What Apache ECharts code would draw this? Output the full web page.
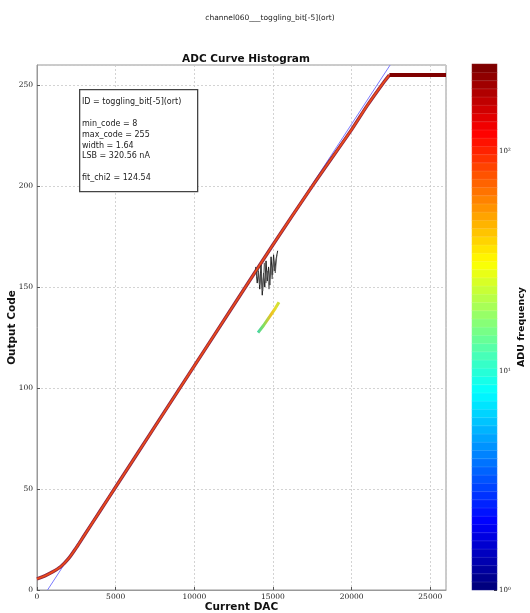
<!DOCTYPE html>
<html>
<head>
<meta charset="utf-8">
<script src="https://cdn.jsdelivr.net/npm/echarts@6/dist/echarts.min.js"></script>
<style>html,body{margin:0;padding:0;background:#fff;}#c{width:530px;height:613px;}</style>
</head>
<body>
<div id="c"></div>
<script>
// ---- data ----
const curveDac  = [0, 500, 1000, 1500, 2000, 2500, 3000, 4000, 5000, 7500, 10000, 12500, 15000, 17500, 20000, 21000, 22000, 22400];
const curveCode = [5.5, 7, 9, 11.5, 15.5, 21, 27, 39, 51, 81, 111, 141, 171, 200, 228, 240, 251, 255];
const flatDac   = [22400, 26000];
const flatCode  = [255, 255];
const fitDac    = [670, 22450];
const fitCode   = [0, 260];
const noiseDac  = [13900, 14000, 14080, 14160, 14240, 14320, 14400, 14480, 14560, 14640, 14720, 14800, 14880, 14960, 15040, 15120, 15200, 15300];
const noiseCode = [160, 152, 158, 149, 161, 146, 157, 150, 163, 153, 160, 151, 165, 156, 166, 158, 164, 168];
const noise2Dac  = [13950, 14050, 14150, 14250, 14350, 14450, 14550, 14650, 14750, 14850, 14950, 15050, 15150, 15250];
const noise2Code = [155, 160, 151, 157, 148, 162, 152, 158, 149, 161, 154, 163, 157, 166];
const stuckDac  = [14050, 14400, 14800, 15150, 15380];
const stuckCode = [127.5, 131, 135.5, 139.5, 142.5];
const xTicks = [0, 5000, 10000, 15000, 20000, 25000];
const yTicks = [0, 50, 100, 150, 200, 250];
const cbarTicks = ['10⁰', '10¹', '10²'];
const infoLines = ['ID = toggling_bit[-5](ort)', '', 'min_code = 8', 'max_code = 255', 'width = 1.64', 'LSB = 320.56 nA', '', 'fit_chi2 = 124.54'];
const jet = ['#00007f', '#0000ff', '#007fff', '#00ffff', '#7fff7f', '#ffff00', '#ff7f00', '#ff0000', '#7f0000'];

const zip = (a, b) => a.map((v, i) => [v, b[i]]);
const NB = 64;
const bands = Array.from({length: NB}, (_, i) => i);

const chart = echarts.init(document.getElementById('c'), null, {renderer: 'canvas'});
const tickFont = {fontFamily: 'DejaVu Serif', fontSize: 7.5, color: '#222'};

chart.setOption({
  backgroundColor: '#fff',
  animation: false,
  title: [
    {text: 'channel060___toggling_bit[-5](ort)', left: 265, top: 9, textAlign: 'center',
     textStyle: {fontFamily: 'DejaVu Sans', fontSize: 7.5, fontWeight: 'normal', color: '#222'}},
    {text: 'ADC Curve Histogram', left: 241, top: 49, textAlign: 'center',
     textStyle: {fontFamily: 'DejaVu Sans', fontSize: 10.5, fontWeight: 'bold', color: '#111'}}
  ],
  grid: [
    {left: 37, right: 84, top: 65, bottom: 23, show: true, borderColor: '#999', borderWidth: 1,
     backgroundColor: '#fff', containLabel: false, outerBoundsMode: 'none'},
    {left: 472, width: 25, top: 64, bottom: 23, show: false, containLabel: false, outerBoundsMode: 'none'}
  ],
  xAxis: [
    {type: 'value', gridIndex: 0, min: 0, max: 26000, interval: 5000,
     name: 'Current DAC', nameLocation: 'middle', nameGap: 12, nameMoveOverlap: false,
     nameTextStyle: {fontFamily: 'DejaVu Sans', fontSize: 10.5, fontWeight: 'bold', color: '#111'},
     axisLine: {show: true, lineStyle: {color: '#999'}},
     axisTick: {show: true, inside: true, length: 3, lineStyle: {color: '#555'}},
     axisLabel: {...tickFont, margin: 3, showMaxLabel: false,
       formatter: v => xTicks.includes(v) ? String(v) : ''},
     splitLine: {show: true, lineStyle: {color: '#c8c8c8', type: [2, 2], width: 0.8}}},
    {type: 'category', gridIndex: 1, data: ['c'], show: false}
  ],
  yAxis: [
    {type: 'value', gridIndex: 0, min: 0, max: 260, interval: 50,
     name: 'Output Code', nameLocation: 'middle', nameGap: 19, nameRotate: 90, nameMoveOverlap: false,
     nameTextStyle: {fontFamily: 'DejaVu Sans', fontSize: 10.5, fontWeight: 'bold', color: '#111'},
     axisLine: {show: true, lineStyle: {color: '#999'}},
     axisTick: {show: true, inside: true, length: 3, lineStyle: {color: '#555'}},
     axisLabel: {...tickFont, margin: 4, showMaxLabel: false,
       formatter: v => yTicks.includes(v) ? String(v) : ''},
     splitLine: {show: true, lineStyle: {color: '#c8c8c8', type: [2, 2], width: 0.8}}},
    {type: 'category', gridIndex: 1, data: bands, show: false},
    {type: 'value', gridIndex: 1, min: 0, max: 2.4, interval: 1, position: 'right',
     name: 'ADU frequency', nameLocation: 'middle', nameGap: 20, nameRotate: 90, nameMoveOverlap: false,
     nameTextStyle: {fontFamily: 'DejaVu Sans', fontSize: 9.5, fontWeight: 'bold', color: '#111'},
     axisLine: {show: false},
     axisTick: {show: true, inside: true, length: 3, lineStyle: {color: '#333'}},
     axisLabel: {fontFamily: 'DejaVu Serif', fontSize: 7, color: '#222', margin: 2, showMaxLabel: false,
       formatter: v => cbarTicks[Math.round(v)] || ''},
     splitLine: {show: false}}
  ],
  visualMap: {
    type: 'continuous', show: false, seriesIndex: 0, min: 0, max: NB - 1, dimension: 1,
    inRange: {color: jet}
  },
  series: [
    {type: 'heatmap', xAxisIndex: 1, yAxisIndex: 1,
     data: bands.map(b => [0, b, b]),
     itemStyle: {borderColor: 'rgba(255,255,255,0.18)', borderWidth: 0.6},
     emphasis: {disabled: true}},
    {type: 'line', name: 'fit', xAxisIndex: 0, yAxisIndex: 0, data: zip(fitDac, fitCode),
     symbol: 'none', lineStyle: {color: '#7a7aff', width: 1}, z: 2},
    {type: 'line', name: 'hist-outer', data: zip(curveDac, curveCode), symbol: 'none', smooth: 0.3,
     lineStyle: {color: '#8c2a4a', width: 3.4}, z: 3},
    {type: 'line', name: 'hist-core', data: zip(curveDac, curveCode), symbol: 'none', smooth: 0.3,
     lineStyle: {color: '#e2361a', width: 1.9}, z: 4},
    {type: 'line', name: 'hist-inner', data: zip(curveDac, curveCode), symbol: 'none', smooth: 0.3,
     lineStyle: {color: '#f07a1a', width: 0.7, opacity: 0.7}, z: 5},
    {type: 'line', name: 'saturated', data: zip(flatDac, flatCode), symbol: 'none',
     lineStyle: {color: '#800000', width: 4}, z: 4},
    {type: 'line', name: 'noise', data: zip(noiseDac, noiseCode), symbol: 'none',
     lineStyle: {color: '#222', width: 1}, z: 3},
    {type: 'line', name: 'noise2', data: zip(noise2Dac, noise2Code), symbol: 'none',
     lineStyle: {color: '#555', width: 0.8}, z: 3},
    {type: 'line', name: 'stuck', data: zip(stuckDac, stuckCode), symbol: 'none',
     lineStyle: {width: 3, color: new echarts.graphic.LinearGradient(0, 0, 1, 0, [
       {offset: 0, color: '#30d0c0'}, {offset: 0.3, color: '#7fe060'}, {offset: 0.6, color: '#f0c020'},
       {offset: 0.8, color: '#e0e030'}, {offset: 1, color: '#b8e040'}])}, z: 4}
  ],
  graphic: [
    {type: 'rect', left: 79, top: 89, shape: {width: 118, height: 102},
     style: {fill: '#fff', stroke: '#444', lineWidth: 1.3}, z: 100},
    {type: 'text', left: 82, top: 97, z: 101,
     style: {text: infoLines.join('\n'), fontFamily: 'DejaVu Sans', fontSize: 8, lineHeight: 10.8, fill: '#222'}}
  ]
});
</script>
</body>
</html>
